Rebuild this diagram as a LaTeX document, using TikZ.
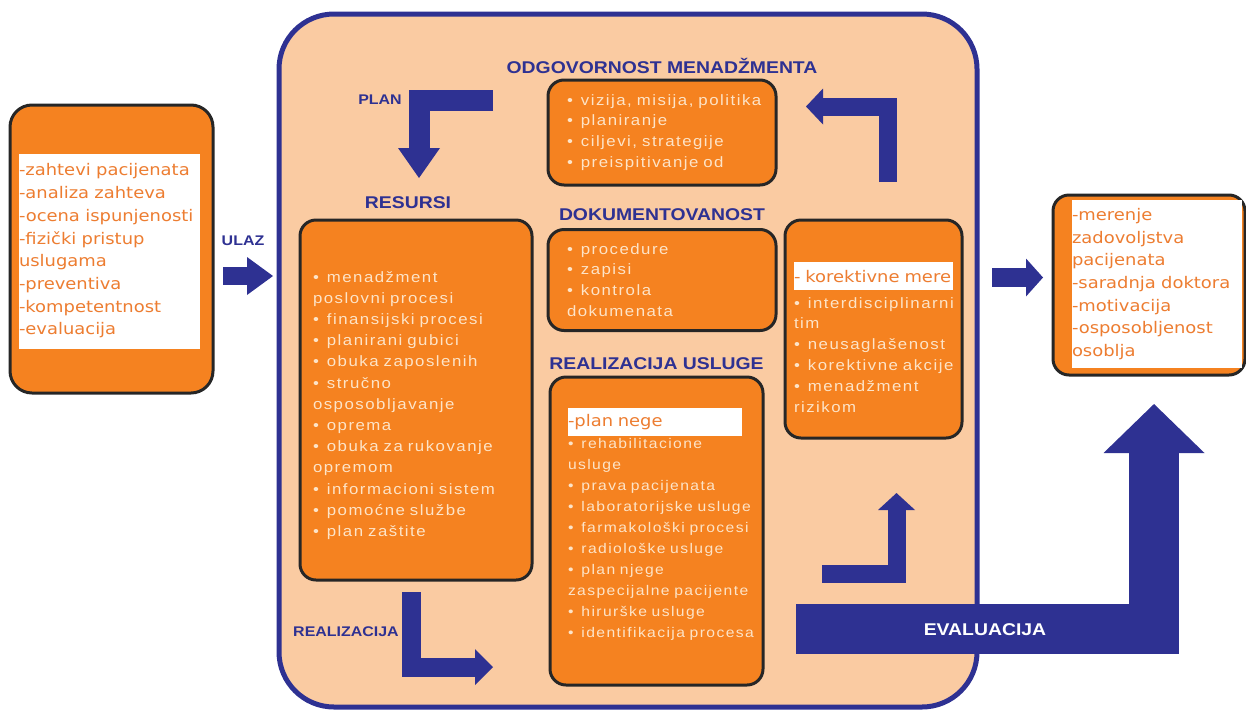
\documentclass[tikz,border=0pt]{standalone}
\usepackage{fontspec}
\setmainfont{Liberation Sans}
\newfontfamily\boxfont[FakeStretch=1.12,LetterSpace=10]{Liberation Sans}
\newfontfamily\headfont[FakeStretch=1.14]{Liberation Sans}
\newfontfamily\listfont[FakeStretch=1.12]{DejaVu Sans}
\usepackage{tikz}
\usetikzlibrary{positioning, arrows.meta}

\definecolor{qmblue}{RGB}{46,49,146}
\definecolor{qmpeach}{RGB}{250,203,162}
\definecolor{qmorange}{RGB}{245,130,32}
\definecolor{qmcream}{RGB}{253,228,200}
\definecolor{wordorange}{RGB}{237,125,49}

\newcommand{\bul}{\textbullet\kern8pt}
\newcommand{\hlrow}[2]{{\setlength{\fboxsep}{0pt}\colorbox{white}{\parbox[c][28pt][c]{#1}{\listfont\fontsize{16}{16}\selectfont\color{wordorange}#2}}}}

\begin{document}
\begin{tikzpicture}[
        x=1pt, y=-1pt,
        frame/.style={draw=qmblue, line width=5pt, fill=qmpeach, rounded corners=55pt, inner sep=0pt},
        box/.style={draw=black!85, line width=3pt, fill=qmorange, rounded corners=16pt, inner sep=0pt, align=left, text=qmcream, font=\boxfont\fontsize{15}{20.8}\selectfont},
        listbox/.style={fill=white, inner sep=0pt, align=left, text=wordorange, font=\listfont\fontsize{16}{22.7}\selectfont},
        title/.style={text=qmblue, inner sep=0pt, text height=12pt, text depth=0pt, font=\headfont\bfseries\fontsize{17}{17}\selectfont},
        tag/.style={text=qmblue, inner sep=0pt, font=\headfont\bfseries\fontsize{14}{14}\selectfont},
        fat/.style args={#1/#2/#3}{draw=qmblue, line width=#1pt, -{Triangle[width=#2pt, length=#3pt, line width=0pt]}}
    ]
        \useasboundingbox (0,0) rectangle (1246,710);

        % Nodes
        \node[frame, minimum width=698pt, minimum height=693pt] (frame) at (628,360.5) {};

        \node[box, rounded corners=22pt, minimum width=203pt, minimum height=288pt] (inbox) at (111.5,249) {};
        \node[listbox, text width=181pt, minimum height=195pt] (inlist) at (109.5,251) {-zahtevi pacijenata\\-analiza zahteva\\-ocena ispunjenosti\\-fizički pristup\\uslugama\\-preventiva\\-kompetentnost\\-evaluacija};

        \node[box, minimum width=192pt, minimum height=180pt] (outbox) at (1149,285) {};
        \node[listbox, text width=170pt, minimum height=168pt] (outlist) at (1157,284) {-merenje\\zadovoljstva\\pacijenata\\-saradnja doktora\\-motivacija\\-osposobljenost\\osoblja};

        \node[box, minimum width=228pt, minimum height=105pt, text width=190pt] (mgmt) at (662,132.5) {\bul vizija, misija, politika\\\bul planiranje\\\bul ciljevi, strategije\\\bul preispitivanje od};
        \node[title, above=4.5pt of mgmt] (mgmttitle) {ODGOVORNOST MENADŽMENTA};

        \node[box, minimum width=228pt, minimum height=101pt, text width=190pt] (docs) at (662,280) {\bul procedure\\\bul zapisi\\\bul kontrola\\dokumenata};
        \node[title, above=7pt of docs] (docstitle) {DOKUMENTOVANOST};

        \node[box, minimum width=232pt, minimum height=360pt, text width=206pt, font=\boxfont\fontsize{15}{21.2}\selectfont] (res) at (416,400) {\rule{0pt}{21.5pt}\bul menadžment\\poslovni procesi\\\bul finansijski procesi\\\bul planirani gubici\\\bul obuka zaposlenih\\\bul stručno\\osposobljavanje\\\bul oprema\\\bul obuka za rukovanje\\opremom\\\bul informacioni sistem\\\bul pomoćne službe\\\bul plan zaštite};
        \node[title, above=9.5pt of res, xshift=-8pt] (restitle) {RESURSI};

        \node[box, minimum width=213pt, minimum height=308pt, text width=177pt, font=\boxfont\fontsize{14}{21}\selectfont] (real) at (656.5,531) {\hlrow{174pt}{-plan nege}\\[2pt]\bul rehabilitacione\\usluge\\\mbox{\bul prava pacijenata}\\\mbox{\bul laboratorijske usluge}\\\mbox{\bul farmakološki procesi}\\\mbox{\bul radiološke usluge}\\\bul plan njege\\\mbox{zaspecijalne pacijente}\\\mbox{\bul hirurške usluge}\\\mbox{\bul identifikacija procesa}\rule[-16pt]{0pt}{1pt}};
        \node[title, above=5.5pt of real] (realtitle) {REALIZACIJA USLUGE};

        \node[box, minimum width=177pt, minimum height=218pt, text width=159pt] (corr) at (873.5,329) {\rule{0pt}{34pt}\hlrow{159pt}{- korektivne mere}\\[6pt]\bul interdisciplinarni\\tim\\\bul neusaglašenost\\\mbox{\bul korektivne akcije}\\\bul menadžment\\rizikom};

        \node[tag] (ulaztag) at (243,241) {ULAZ};
        \node[tag] (plantag) at (380,100) {PLAN};
        \node[tag] (realtag) at (346,632) {REALIZACIJA};

        % Arrow ends
        \coordinate (ulazS) at (223,276);
        \coordinate (ulazE) at (273,276);
        \coordinate (izlazS) at (992,277.5);
        \coordinate (izlazE) at (1043,277.5);
        \coordinate (planS) at (493,100);
        \coordinate (planE) at (419,178);
        \coordinate (realS) at (411.5,592);
        \coordinate (realE) at (493,667);
        \coordinate (upS) at (822,574);
        \coordinate (upE) at (896.5,493);
        \coordinate (corrS) at (887.5,182);
        \coordinate (corrE) at (806,106.5);
        \coordinate (evalS) at (796,629);
        \coordinate (evalE) at (1154,404);

        % Paths
        \draw[fat=18/38/26] (ulazS) -- (ulazE);
        \draw[fat=19/38/17] (izlazS) -- (izlazE);
        \draw[fat=21/42/30] (planS) -| (planE);
        \draw[fat=19/36/18] (realS) |- (realE);
        \draw[fat=18/37/17] (upS) -| (upE);
        \draw[fat=18/36/17] (corrS) |- (corrE);
        \draw[fat=50/101/49] (evalS) -| (evalE);

        \node[tag, text=white, font=\headfont\bfseries\fontsize{17}{17}\selectfont] (evaltag) at (985,630) {EVALUACIJA};

    \end{tikzpicture}
\end{document}
